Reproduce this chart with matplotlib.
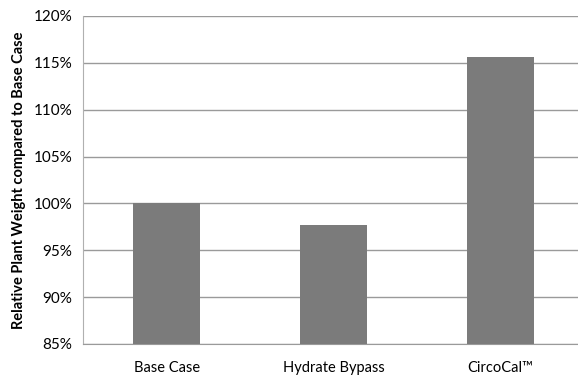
import matplotlib.pyplot as plt
from matplotlib.ticker import FuncFormatter

# data
categories = ["Base Case", "Hydrate Bypass", "CircoCal\u2122"]
weights = [100.0, 97.7, 115.6]
yticks = [85, 90, 95, 100, 105, 110, 115, 120]

plt.rcParams['font.family'] = ['Lato', 'DejaVu Sans']

fig = plt.figure(figsize=(5.78, 3.8), dpi=100)
ax = fig.add_axes([0.144, 0.095, 0.86, 0.863])

ax.bar(range(len(categories)), [w - 85 for w in weights], bottom=85,
       width=0.4, color='#7b7b7b', zorder=3)

ax.set_ylim(85, 120)
ax.set_xlim(-0.5, 2.48)
ax.set_yticks(yticks)
ax.yaxis.set_major_formatter(FuncFormatter(lambda v, p: f"{v:.0f}%"))
ax.set_xticks(range(len(categories)))
ax.set_xticklabels(categories, fontsize=10.5)
ax.tick_params(axis='y', labelsize=11, length=0, pad=8)
ax.tick_params(axis='x', length=0, pad=12)

ax.grid(axis='y', color='#9a9a9a', linewidth=1.0, zorder=0)
for s in ['top', 'right']:
    ax.spines[s].set_visible(False)
ax.spines['left'].set_color('#b0b0b0')
ax.spines['bottom'].set_color('#9a9a9a')

ax.set_ylabel("Relative Plant Weight compared to Base Case", fontsize=10.5,
              fontweight='bold', labelpad=5)

fig.savefig("out.png", dpi=100)
